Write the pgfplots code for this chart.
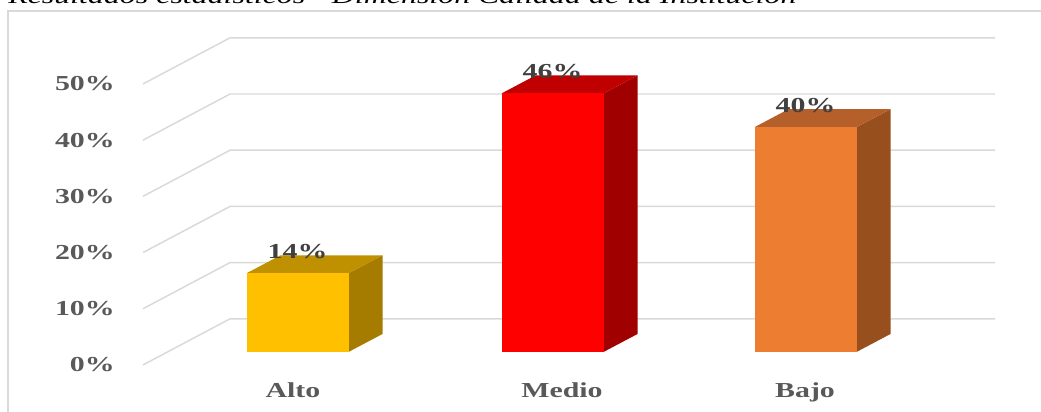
\documentclass[border=0pt]{standalone}
\usepackage{pgfplots}
\pgfplotsset{compat=1.18}
\usepackage{fontspec}
\setmainfont{Liberation Serif}[FakeStretch=1.4]
\definecolor{gridc}{HTML}{D9D9D9}
\definecolor{tickc}{HTML}{595959}
\definecolor{labc}{HTML}{404040}
\definecolor{altoF}{HTML}{FFC000}
\definecolor{altoT}{HTML}{BF9000}
\definecolor{altoS}{HTML}{A67C00}
\definecolor{medF}{HTML}{FF0000}
\definecolor{medT}{HTML}{C00000}
\definecolor{medS}{HTML}{A00000}
\definecolor{bajF}{HTML}{ED7D31}
\definecolor{bajT}{HTML}{B5602A}
\definecolor{bajS}{HTML}{974F1E}
\begin{document}
\begin{tikzpicture}
\begin{axis}[
  scale only axis, width=780.75pt, height=309pt,
  xmin=0, xmax=1041, ymin=-10.68, ymax=62.63,
  axis line style={draw=none}, major tick length=0pt,
  xtick={293,562,805}, xticklabels={Alto,Medio,Bajo},
  ytick={-2.31,7.69,17.69,27.69,37.69,47.69},
  yticklabels={0\%,10\%,20\%,30\%,40\%,50\%},
  xticklabel style={anchor=base, inner sep=0pt, yshift=10.5pt,
    font=\fontsize{16}{18}\selectfont\bfseries, text=tickc},
  yticklabel style={anchor=east, inner sep=0pt, xshift=86.25pt,
    font=\fontsize{16}{18}\selectfont\bfseries, text=tickc},
  /pgf/number format/assume math mode=true,
  clip=true,
]
% chart border
\addplot[draw=gridc, line width=0.8pt] coordinates {(8,-20) (8,60.67) (1060,60.67)};
% gridlines
\addplot[draw=gridc, line width=1.1pt] coordinates {(143,-2.31) (230,5.9) (995,5.9)};
\addplot[draw=gridc, line width=1.1pt] coordinates {(143,7.69) (230,15.9) (995,15.9)};
\addplot[draw=gridc, line width=1.1pt] coordinates {(143,17.69) (230,25.9) (995,25.9)};
\addplot[draw=gridc, line width=1.1pt] coordinates {(143,27.69) (230,35.9) (995,35.9)};
\addplot[draw=gridc, line width=1.1pt] coordinates {(143,37.69) (230,45.9) (995,45.9)};
\addplot[draw=gridc, line width=1.1pt] coordinates {(143,47.69) (230,55.9) (995,55.9)};
% side and top faces
\addplot[fill=altoS, draw=none] coordinates {(348.5,0) (382.5,3.2) (382.5,17.2) (348.5,14)} -- cycle;
\addplot[fill=altoT, draw=none] coordinates {(246.5,14) (280.5,17.2) (382.5,17.2) (348.5,14)} -- cycle;
\addplot[fill=medS, draw=none] coordinates {(603.5,0) (637.5,3.2) (637.5,49.2) (603.5,46)} -- cycle;
\addplot[fill=medT, draw=none] coordinates {(501.5,46) (535.5,49.2) (637.5,49.2) (603.5,46)} -- cycle;
\addplot[fill=bajS, draw=none] coordinates {(856.5,0) (890.5,3.2) (890.5,43.2) (856.5,40)} -- cycle;
\addplot[fill=bajT, draw=none] coordinates {(754.5,40) (788.5,43.2) (890.5,43.2) (856.5,40)} -- cycle;
% front faces
\pgfplotsset{every node near coord/.style={anchor=base, inner sep=0pt, yshift=11pt,
    font=\fontsize{16}{18}\selectfont\bfseries, text=labc}}
\addplot[ybar, bar shift=0pt, bar width=102, fill=altoF, draw=none,
  nodes near coords={\pgfmathprintnumber{\pgfplotspointmeta}\%}] coordinates {(297.5,14)};
\addplot[ybar, bar shift=0pt, bar width=102, fill=medF, draw=none,
  nodes near coords={\pgfmathprintnumber{\pgfplotspointmeta}\%}] coordinates {(552.5,46)};
\addplot[ybar, bar shift=0pt, bar width=102, fill=bajF, draw=none,
  nodes near coords={\pgfmathprintnumber{\pgfplotspointmeta}\%}] coordinates {(805.5,40)};
\node[anchor=base west, inner sep=0pt, font=\fontsize{17.1}{19}\selectfont\itshape]
  at (axis cs:8,61.92) {Resultados estadísticos - Dimensión Calidad de la Institución};
\end{axis}
\pgfresetboundingbox
\path (current axis.south west) rectangle (current axis.north east);
\end{tikzpicture}
\end{document}
